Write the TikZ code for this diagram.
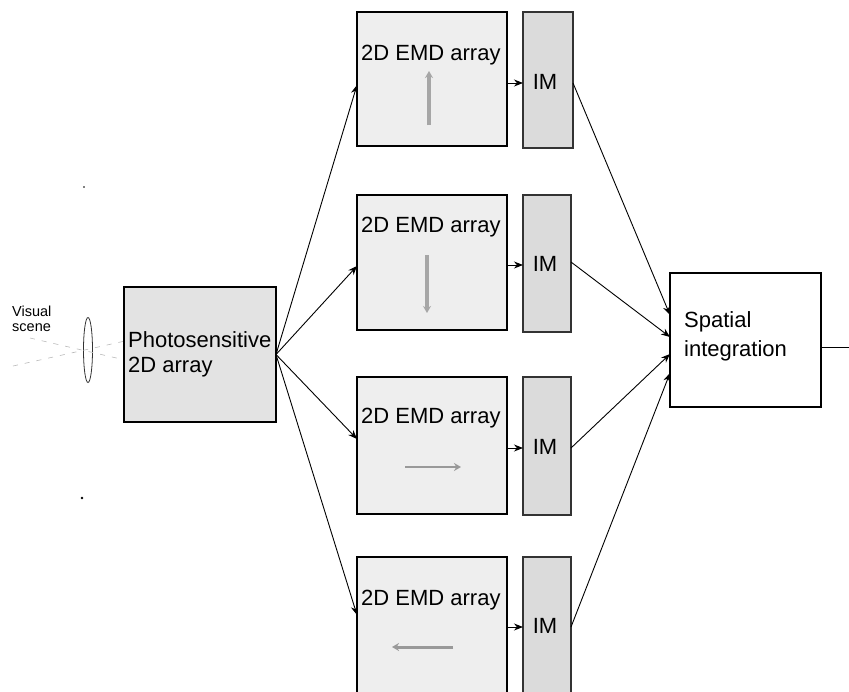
\documentclass[tikz,border=0pt]{standalone}
\usepackage{fontspec}
\setmainfont{Liberation Sans}
\usetikzlibrary{arrows.meta,shapes.geometric}
\begin{document}
\begin{tikzpicture}[x=1pt,y=-1pt,
  box/.style={draw=black,line width=1.8pt,inner sep=0pt,outer sep=0pt},
  emd/.style={box,fill=gray!13},
  imbox/.style={box,line width=1.2pt,fill=gray!28,draw=black!80},
  txt/.style={inner sep=0pt,anchor=base west,font=\fontsize{22}{24}\selectfont},
  conn/.style={line width=0.9pt,-{Stealth[length=9pt,width=7pt]}},
  inarrow/.style={draw=gray!70,line width=3.5pt,-{Stealth[length=7pt,width=8pt]}},
  ray/.style={draw=gray!55,line width=0.6pt,dash pattern=on 5pt off 7pt}]
\useasboundingbox (0,0) rectangle (849,691);
% lens and rays
\node[draw=black!80,line width=0.8pt,ellipse,minimum width=9pt,minimum height=65pt,inner sep=0pt] (lens) at (88,350) {};
\coordinate (r1a) at (30,338); \coordinate (r1b) at (125,360);
\coordinate (r2a) at (13,366); \coordinate (r2b) at (125,341);
\draw[ray] (r1a) -- (r1b);
\draw[ray] (r2a) -- (r2b);
\node[inner sep=0pt,anchor=base west,font=\fontsize{14.5}{14}\selectfont] (vs1) at (12,316) {Visual};
\node[inner sep=0pt,anchor=base west,font=\fontsize{14.5}{14}\selectfont] (vs2) at (12,331) {scene};
% stray dots
\fill (82,498) circle (1.3pt) coordinate (dot1);
\fill (84,187) circle (0.8pt) coordinate (dot2);
% photosensitive
\node[box,fill=gray!22,minimum width=152pt,minimum height=135pt,anchor=north west] (ps) at (124,287) {};
\node[txt] (pst1) at (128,347) {Photosensitive};
\node[txt] (pst2) at (128,372) {2D array};
% EMD boxes
\node[emd,minimum width=150pt,minimum height=134pt,anchor=north west] (e1) at (357,12) {};
\node[emd,minimum width=150pt,minimum height=135pt,anchor=north west] (e2) at (357,195) {};
\node[emd,minimum width=150pt,minimum height=137pt,anchor=north west] (e3) at (357,377) {};
\node[emd,minimum width=150pt,minimum height=145pt,anchor=north west] (e4) at (357,557) {};
\node[txt] (t1) at (361,60) {2D EMD array};
\node[txt] (t2) at (361,232) {2D EMD array};
\node[txt] (t3) at (361,423) {2D EMD array};
\node[txt] (t4) at (361,605) {2D EMD array};
% inner motion arrows
\coordinate (a1s) at (429,125); \coordinate (a1e) at (429,71);
\coordinate (a2s) at (427,255); \coordinate (a2e) at (427,313);
\coordinate (a3s) at (405,467); \coordinate (a3e) at (461,467);
\coordinate (a4s) at (453,647); \coordinate (a4e) at (392,647);
\draw[inarrow] (a1s) -- (a1e);
\draw[inarrow] (a2s) -- (a2e);
\draw[inarrow,line width=2.5pt,draw=gray!80] (a3s) -- (a3e);
\draw[inarrow,line width=3pt,draw=gray!80] (a4s) -- (a4e);
% IM boxes
\node[imbox,minimum width=50pt,minimum height=136pt,anchor=north west] (m1) at (523,12) {};
\node[imbox,minimum width=48pt,minimum height=137pt,anchor=north west] (m2) at (523,195) {};
\node[imbox,minimum width=48pt,minimum height=138pt,anchor=north west] (m3) at (523,377) {};
\node[imbox,minimum width=48pt,minimum height=145pt,anchor=north west] (m4) at (523,557) {};
\node[inner sep=0pt,font=\fontsize{22}{24}\selectfont] (i1) at (545,82) {IM};
\node[inner sep=0pt,font=\fontsize{22}{24}\selectfont] (i2) at (545,264) {IM};
\node[inner sep=0pt,font=\fontsize{22}{24}\selectfont] (i3) at (545,447) {IM};
\node[inner sep=0pt,font=\fontsize{22}{24}\selectfont] (i4) at (545,626) {IM};
% spatial integration
\node[box,fill=white,minimum width=151pt,minimum height=134pt,anchor=north west] (sp) at (670,273) {};
\node[txt] (spt1) at (684,327) {Spatial};
\node[txt] (spt2) at (684,356) {integration};
\coordinate (out) at (852,347);
\draw[line width=0.9pt] (sp.east |- out) -- (out);
% connectors from photosensitive
\draw[conn] (ps.east) -- (e1.west |- 0,85);
\draw[conn] (ps.east) -- (e2.west |- 0,266);
\draw[conn] (ps.east) -- (e3.west |- 0,439);
\draw[conn] (ps.east) -- (e4.west |- 0,615);
% EMD to IM
\draw[conn] (e1.east |- 0,83) -- (m1.west |- 0,83);
\draw[conn] (e2.east |- 0,265) -- (m2.west |- 0,265);
\draw[conn] (e3.east |- 0,448) -- (m3.west |- 0,448);
\draw[conn] (e4.east |- 0,627) -- (m4.west |- 0,627);
% IM to spatial
\draw[conn] (m1.east |- 0,83) -- (sp.west |- 0,315);
\draw[conn] (m2.east |- 0,262) -- (sp.west |- 0,337);
\draw[conn] (m3.east |- 0,448) -- (sp.west |- 0,354);
\draw[conn] (m4.east |- 0,627) -- (sp.west |- 0,373);
\end{tikzpicture}
\end{document}
